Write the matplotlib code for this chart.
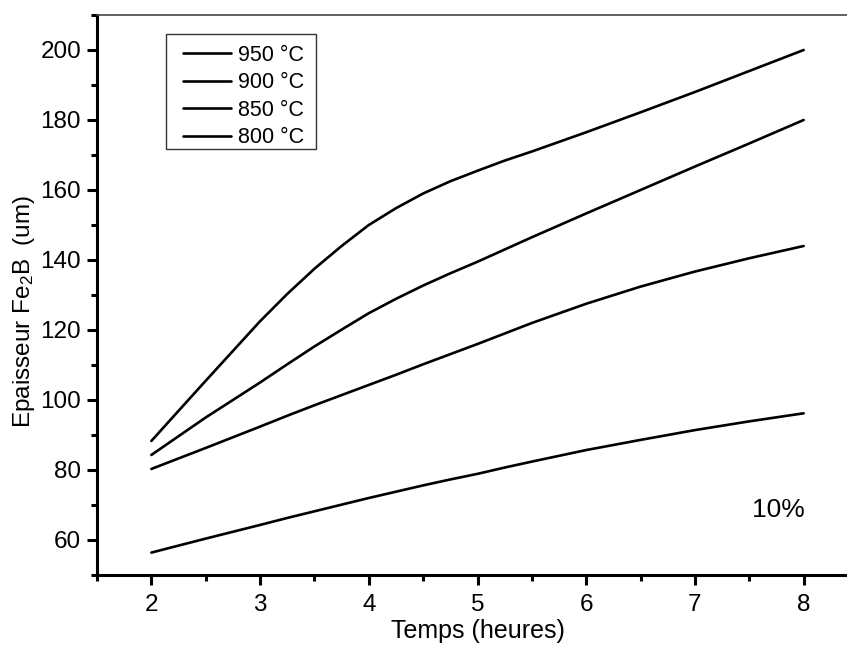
import matplotlib
matplotlib.use("Agg")
import matplotlib.pyplot as plt
from matplotlib.patches import Rectangle
from matplotlib.ticker import MultipleLocator

plt.rcParams['font.family'] = ['Liberation Sans', 'DejaVu Sans']
plt.rcParams['mathtext.default'] = 'regular'

# Boriding time (hours) and Fe2B layer thickness (um) per temperature
hours = [2, 2.5, 3, 3.25, 3.5, 3.75, 4, 4.25, 4.5, 4.75, 5, 5.25, 5.5, 6, 6.5, 7, 7.5, 8]
t950 = [88.3, 105.5, 122.5, 130.3, 137.5, 144.0, 150.0, 154.8, 159.0, 162.5, 165.5, 168.4, 171.0, 176.5, 182.2, 188.0, 194.0, 200.0]
t900 = [84.3, 95.0, 105.0, 110.2, 115.3, 120.1, 124.8, 128.9, 132.7, 136.2, 139.5, 143.0, 146.5, 153.3, 160.0, 166.7, 173.3, 180.0]
t850 = [80.3, 86.3, 92.4, 95.5, 98.5, 101.4, 104.3, 107.2, 110.2, 113.1, 116.0, 119.0, 122.0, 127.5, 132.4, 136.7, 140.5, 144.0]
t800 = [56.4, 60.4, 64.3, 66.3, 68.2, 70.1, 72.0, 73.8, 75.6, 77.3, 78.9, 80.7, 82.4, 85.7, 88.6, 91.4, 93.9, 96.2]
series = [("950 °C", t950), ("900 °C", t900), ("850 °C", t850), ("800 °C", t800)]

W, H = 847, 646
fig = plt.figure(figsize=(W / 100, H / 100), dpi=100)
ax = fig.add_axes([97 / W, 71 / H, 761 / W, 560 / H])

for label, vals in series:
    ax.plot(hours, vals, color='black', lw=1.9, label=label,
            solid_capstyle='round', solid_joinstyle='round')

ax.set_xlim(1.5, 8.5)
ax.set_ylim(50, 210)
ax.xaxis.set_minor_locator(MultipleLocator(0.5))
ax.yaxis.set_minor_locator(MultipleLocator(10))
ax.set_xticks([2, 3, 4, 5, 6, 7, 8])
ax.set_yticks([60, 80, 100, 120, 140, 160, 180, 200])

for side in ('left', 'bottom'):
    ax.spines[side].set_linewidth(2.2)
ax.spines['top'].set_linewidth(1.2)
ax.spines['top'].set_color('#444444')
ax.spines['right'].set_visible(False)

ax.tick_params(which='major', direction='out', length=7.5, width=2.2,
               labelsize=17.5, pad=4, top=False, right=False)
ax.tick_params(which='minor', direction='out', length=4, width=2.2,
               top=False, right=False)
ax.tick_params(axis='x', which='major', pad=6)

ax.set_xlabel('Temps (heures)', fontsize=18, labelpad=2)
ax.set_ylabel('Epaisseur Fe$_2$B  (um)', fontsize=17.5)
ax.yaxis.set_label_coords(-0.079, 0.471)

ax.text(7.77, 68.6, '10%', fontsize=19, ha='center', va='center')

# Legend entries without their own frame; a plain box is drawn around them
leg = ax.legend(loc='upper left', bbox_to_anchor=(183 / W, 1 - 45 / H),
                bbox_transform=fig.transFigure, borderaxespad=0,
                fontsize=15.5, frameon=False, handlelength=2.25,
                handletextpad=0.3, labelspacing=0.3, borderpad=0)
fig.patches.append(Rectangle((166 / W, 1 - 149 / H), 150 / W, 115 / H,
                             transform=fig.transFigure, fill=False,
                             edgecolor='#333333', linewidth=1.0))

fig.savefig('out.png', dpi=100)
